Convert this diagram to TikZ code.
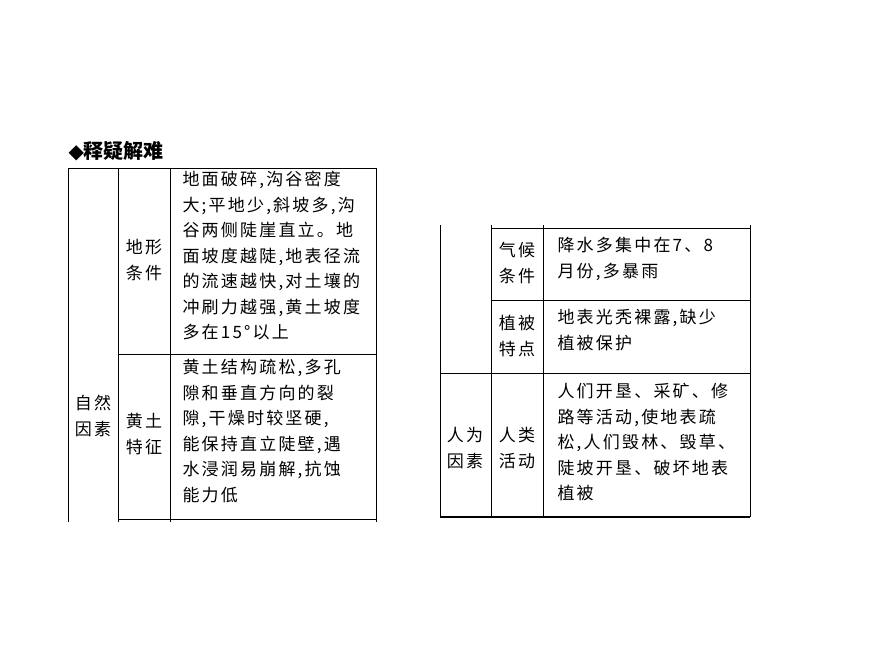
\documentclass[tikz,border=0pt]{standalone}
\usepackage{fontspec}
\newfontfamily\cjk[LetterSpace=13]{Noto Sans CJK SC}
\newfontfamily\cjkhead{Noto Sans CJK SC}
\newfontfamily\djsans{DejaVu Sans}
\begin{document}
\begin{tikzpicture}[x=1pt,y=-1pt,line width=1pt,
  txt/.style={anchor=north west,align=left,inner sep=0pt,font=\cjk\fontsize{17}{25.5}\selectfont},
  lab/.style={align=center,inner sep=0pt,font=\cjk\fontsize{17}{26}\selectfont}]
\useasboundingbox (0,0) rectangle (870,653);
\node[anchor=west,inner sep=0pt,font=\fontsize{20}{22}\selectfont] (head) at (68,151) {{\djsans ◆}{\cjkhead\bfseries 释疑解难}};
% left table
\draw (68,522) -- (68,168) -- (376,168) -- (376,522);
\draw (118,168) -- (118,522);
\draw (170,168) -- (170,522);
\draw (118,354) -- (376,354);
\draw (118,519) -- (376,519);
\node[lab] (zr) at (93,416) {自然\\因素};
\node[lab] (dx) at (144,260) {地形\\条件};
\node[lab] (ht) at (144,434) {黄土\\特征};
\node[txt] (t1) at (182,171) {地面破碎,沟谷密度\\大;平地少,斜坡多,沟\\谷两侧陡崖直立。地\\面坡度越陡,地表径流\\的流速越快,对土壤的\\冲刷力越强,黄土坡度\\多在15°以上};
\node[txt] (t2) at (182,359) {黄土结构疏松,多孔\\隙和垂直方向的裂\\隙,干燥时较坚硬,\\能保持直立陡壁,遇\\水浸润易崩解,抗蚀\\能力低};
% right table
\draw (440,225) -- (440,517);
\draw (491,225) -- (491,517);
\draw (543,225) -- (543,517);
\draw (750,225) -- (750,517);
\draw (491,228) -- (750,228);
\draw (491,300) -- (750,300);
\draw (440,373) -- (750,373);
\draw[line width=1.6pt] (440,517) -- (750,517);
\node[lab] (qh) at (517,263) {气候\\条件};
\node[lab] (zb) at (517,336) {植被\\特点};
\node[lab] (rw) at (465,448) {人为\\因素};
\node[lab] (rl) at (517,448) {人类\\活动};
\node[txt] (t3) at (557,237) {降水多集中在7、8\\月份,多暴雨};
\node[txt] (t4) at (557,309) {地表光秃裸露,缺少\\植被保护};
\node[txt] (t5) at (557,383) {人们开垦、采矿、修\\路等活动,使地表疏\\松,人们毁林、毁草、\\陡坡开垦、破坏地表\\植被};
\end{tikzpicture}
\end{document}
